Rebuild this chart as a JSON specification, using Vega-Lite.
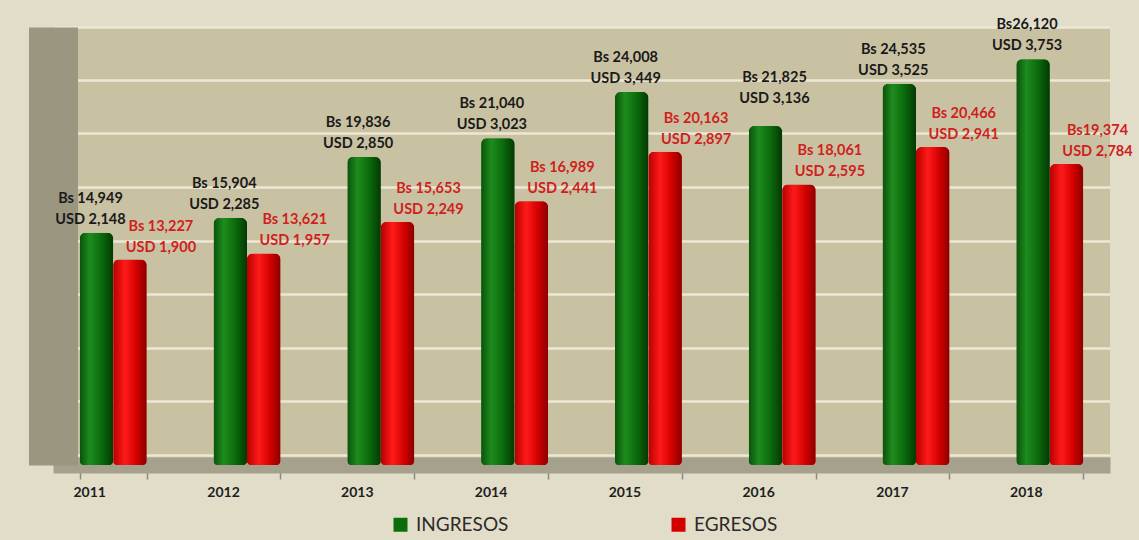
{
  "$schema": "https://vega.github.io/schema/vega-lite/v6.json",
  "width": 1057,
  "height": 438,
  "autosize": "none",
  "padding": {"left": 53, "top": 27, "right": 29, "bottom": 75},
  "background": "#e2ddc9",
  "config": {"view": {"fill": "#c9c2a2", "stroke": null}, "font": "Lato"},
  "data": {
    "values": [
      {"year": "2011", "series": "INGRESOS", "bs": 14949, "label": "Bs 14,949\nUSD 2,148"},
      {"year": "2011", "series": "EGRESOS", "bs": 13227, "label": "Bs 13,227\nUSD 1,900"},
      {"year": "2012", "series": "INGRESOS", "bs": 15904, "label": "Bs 15,904\nUSD 2,285"},
      {"year": "2012", "series": "EGRESOS", "bs": 13621, "label": "Bs 13,621\nUSD 1,957"},
      {"year": "2013", "series": "INGRESOS", "bs": 19836, "label": "Bs 19,836\nUSD 2,850"},
      {"year": "2013", "series": "EGRESOS", "bs": 15653, "label": "Bs 15,653\nUSD 2,249"},
      {"year": "2014", "series": "INGRESOS", "bs": 21040, "label": "Bs 21,040\nUSD 3,023"},
      {"year": "2014", "series": "EGRESOS", "bs": 16989, "label": "Bs 16,989\nUSD 2,441"},
      {"year": "2015", "series": "INGRESOS", "bs": 24008, "label": "Bs 24,008\nUSD 3,449"},
      {"year": "2015", "series": "EGRESOS", "bs": 20163, "label": "Bs 20,163\nUSD 2,897"},
      {"year": "2016", "series": "INGRESOS", "bs": 21825, "label": "Bs 21,825\nUSD 3,136"},
      {"year": "2016", "series": "EGRESOS", "bs": 18061, "label": "Bs 18,061\nUSD 2,595"},
      {"year": "2017", "series": "INGRESOS", "bs": 24535, "label": "Bs 24,535\nUSD 3,525"},
      {"year": "2017", "series": "EGRESOS", "bs": 20466, "label": "Bs 20,466\nUSD 2,941"},
      {"year": "2018", "series": "INGRESOS", "bs": 26120, "label": "Bs26,120\nUSD 3,753"},
      {"year": "2018", "series": "EGRESOS", "bs": 19374, "label": "Bs19,374\nUSD 2,784"}
    ]
  },
  "encoding": {
    "x": {
      "field": "year",
      "type": "nominal",
      "scale": {"paddingInner": 0.5},
      "axis": {
        "title": null,
        "labelAngle": 0,
        "labelFont": "Lato",
        "labelFontWeight": "bold",
        "labelFontSize": 14,
        "labelColor": "#1e1e1e",
        "labelOffset": -24,
        "labelPadding": 6,
        "tickBand": "extent",
        "tickOffset": -24,
        "tickSize": 14,
        "tickColor": "#8c8a80",
        "tickWidth": 1.5,
        "domainColor": "#a6a18c",
        "domainWidth": 16,
        "grid": false
      }
    },
    "xOffset": {"field": "series", "type": "nominal", "scale": {"domain": ["INGRESOS", "EGRESOS"]}},
    "y": {
      "field": "bs",
      "type": "quantitative",
      "scale": {"domain": [0, 28200]},
      "axis": {
        "title": null,
        "labels": false,
        "ticks": false,
        "domain": true,
        "domainColor": "#9b9680",
        "domainWidth": 49,
        "grid": true,
        "gridColor": "#ece7d6",
        "gridWidth": 2.5,
        "values": [650, 4100, 7550, 11000, 14450, 17900, 21350, 24800, 28200]
      }
    }
  },
  "layer": [
    {
      "mark": {"type": "bar", "cornerRadiusTopLeft": 6, "cornerRadiusTopRight": 6, "cornerRadiusBottomLeft": 4, "cornerRadiusBottomRight": 4},
      "encoding": {
        "color": {
          "field": "series",
          "type": "nominal",
          "scale": {"domain": ["INGRESOS", "EGRESOS"], "range": ["#0b6e0b", "#d40000"]},
          "legend": {
            "title": null,
            "orient": "none",
            "legendX": 338,
            "legendY": 488,
            "direction": "horizontal",
            "columns": 2,
            "columnPadding": 160,
            "symbolType": "square",
            "symbolSize": 196,
            "symbolStrokeWidth": 0,
            "labelFontSize": 19,
            "labelColor": "#2b2b2b",
            "labelFont": "Lato",
            "labelOffset": 6
          }
        }
      }
    },
    {
      "transform": [{"filter": "datum.series === 'INGRESOS'"}],
      "mark": {
        "type": "bar",
        "cornerRadiusTopLeft": 6, "cornerRadiusTopRight": 6, "cornerRadiusBottomLeft": 4, "cornerRadiusBottomRight": 4,
        "fill": {"gradient": "linear", "x1": 0, "y1": 0, "x2": 1, "y2": 0,
          "stops": [
            {"offset": 0, "color": "#0a520a"},
            {"offset": 0.3, "color": "#1e8c1e"},
            {"offset": 0.65, "color": "#0b6b0b"},
            {"offset": 1, "color": "#053805"}
          ]}
      }
    },
    {
      "transform": [{"filter": "datum.series === 'EGRESOS'"}],
      "mark": {
        "type": "bar",
        "cornerRadiusTopLeft": 6, "cornerRadiusTopRight": 6, "cornerRadiusBottomLeft": 4, "cornerRadiusBottomRight": 4,
        "fill": {"gradient": "linear", "x1": 0, "y1": 0, "x2": 1, "y2": 0,
          "stops": [
            {"offset": 0, "color": "#b80000"},
            {"offset": 0.35, "color": "#ff1a1a"},
            {"offset": 0.7, "color": "#d20000"},
            {"offset": 1, "color": "#8a0000"}
          ]}
      }
    },
    {
      "transform": [{"filter": "datum.series === 'INGRESOS' && datum.year !== '2016'"}],
      "mark": {"type": "text", "font": "Lato", "fontWeight": "bold", "fontSize": 14.5, "color": "#1a1a1a", "baseline": "bottom", "dy": -27, "dx": -6, "lineBreak": "\n", "lineHeight": 21},
      "encoding": {"text": {"field": "label", "type": "nominal"}}
    },
    {
      "transform": [{"filter": "datum.series === 'INGRESOS' && datum.year === '2016'"}],
      "mark": {"type": "text", "font": "Lato", "fontWeight": "bold", "fontSize": 14.5, "color": "#1a1a1a", "baseline": "bottom", "dy": -41, "dx": 9, "lineBreak": "\n", "lineHeight": 21},
      "encoding": {"text": {"field": "label", "type": "nominal"}}
    },
    {
      "transform": [{"filter": "datum.series === 'EGRESOS'"}],
      "mark": {"type": "text", "font": "Lato", "fontWeight": "bold", "fontSize": 14.5, "color": "#cf1f1f", "baseline": "bottom", "dy": -26, "dx": 31, "lineBreak": "\n", "lineHeight": 21},
      "encoding": {"text": {"field": "label", "type": "nominal"}}
    }
  ]
}
